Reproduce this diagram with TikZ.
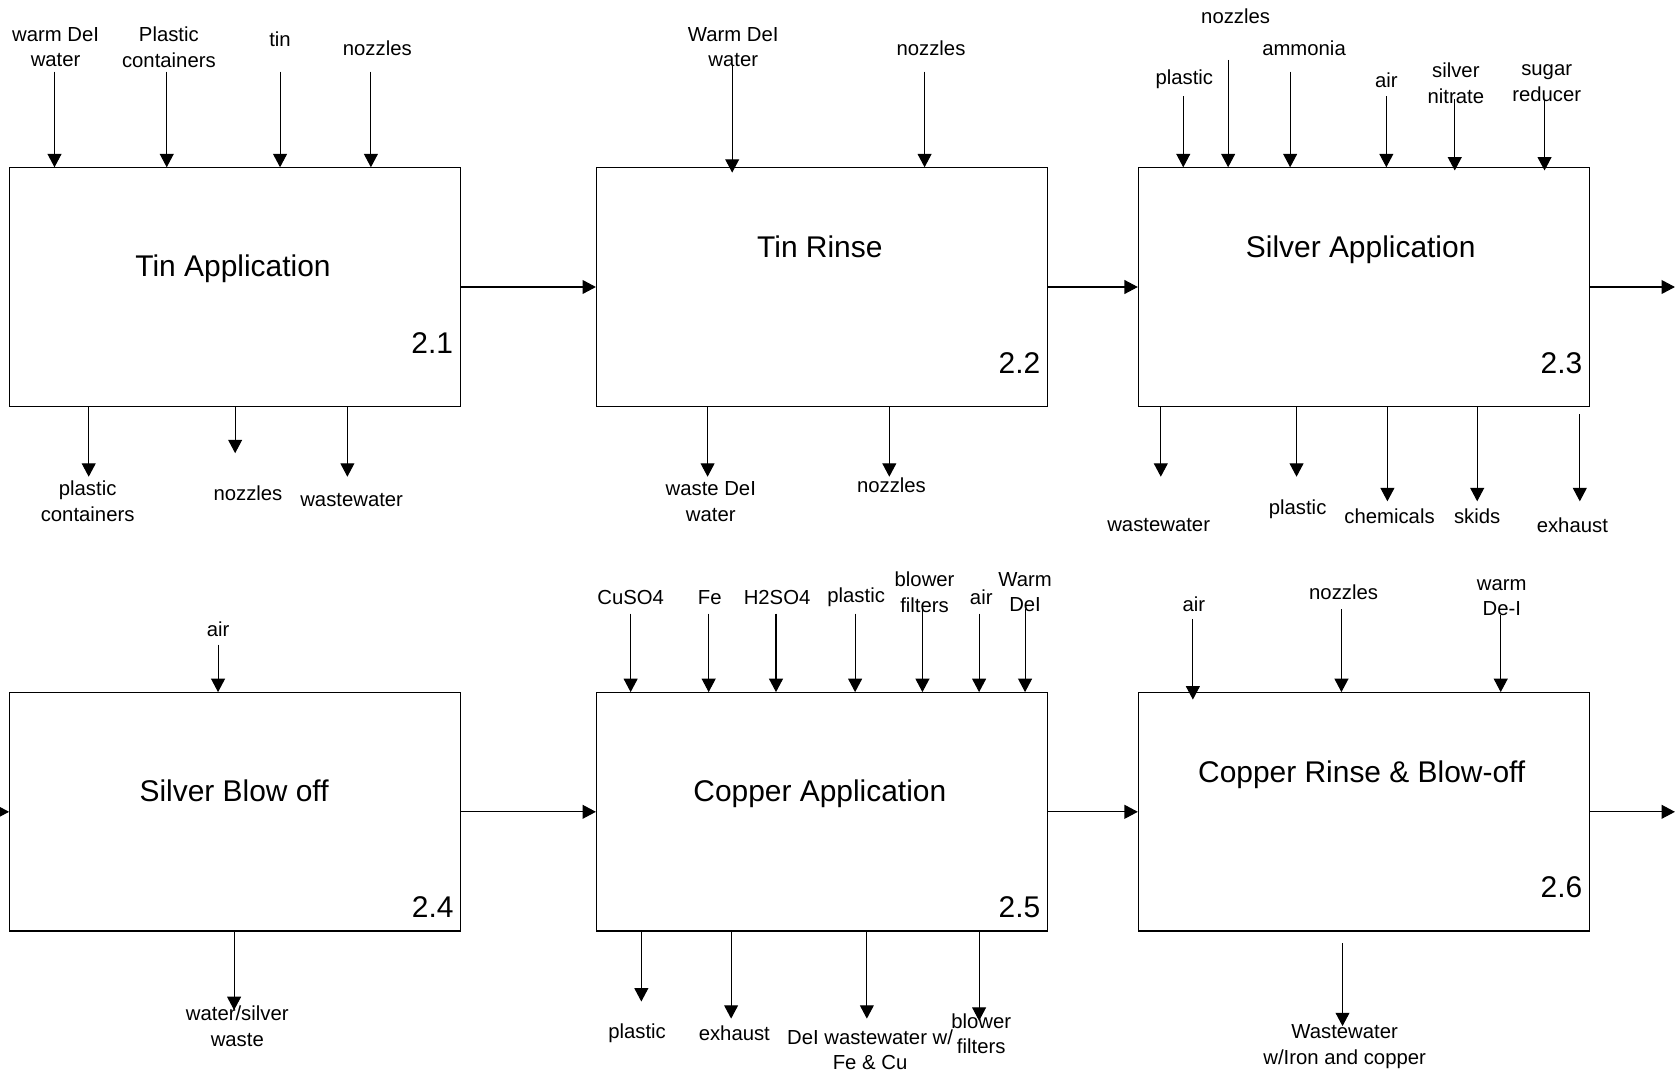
\documentclass[tikz,border=0pt]{standalone}
\usepackage{fontspec}
\setmainfont{Liberation Sans}
\usetikzlibrary{arrows.meta}

% an input stream: name, box, x, start y, overshoot, label x, label y, text
\newcommand\feedin[8]{%
  \node[lbl] (#1) at (#6,#7) {#8};
  \coordinate (#1-s) at (#3,#4);
  \draw[flow, shorten >=-#5pt] (#1-s) -- (#1-s |- #2.north);
}
% an output stream: name, box, x, gap below box, end y, label x, label y, text
\newcommand\feedout[8]{%
  \node[lbl] (#1) at (#6,#7) {#8};
  \coordinate (#1-e) at (#3,#5);
  \draw[flow, shorten <=#4pt] (#1-e |- #2.south) -- (#1-e);
}

\begin{document}
\begin{tikzpicture}[x=1pt,y=-1pt,
  proc/.style={draw=black, line width=1pt, minimum width=422pt,
               minimum height=223pt, inner sep=0pt},
  ttl/.style={font=\fontsize{28}{34}\selectfont, inner sep=0pt},
  lbl/.style={font=\fontsize{19}{24}\selectfont, align=center, inner sep=0pt},
  flow/.style={draw=black, line width=1pt,
               -{Triangle[length=12.5pt,width=13pt]}},
]
\useasboundingbox (0,0) rectangle (1568,1004);

% process boxes
\node[proc] (b1) at (220,268.5) {};
\node[proc] (b2) at (769,268.5) {};
\node[proc] (b3) at (1276,268.5) {};
\node[proc] (b4) at (220,759.5) {};
\node[proc] (b5) at (769,759.5) {};
\node[proc] (b6) at (1276,759.5) {};

% process names
\node[ttl, anchor=base] (t1) at (218,259) {Tin Application};
\node[ttl, anchor=base] (t2) at (767,241) {Tin Rinse};
\node[ttl, anchor=base] (t3) at (1273,241) {Silver Application};
\node[ttl, anchor=base] (t4) at (219,750) {Silver Blow off};
\node[ttl, anchor=base] (t5) at (767,750) {Copper Application};
\node[ttl, anchor=base] (t6) at (1274,732) {Copper Rinse \& Blow-off};

% process numbers
\node[ttl, anchor=base east] (n1) at (424,331) {2.1};
\node[ttl, anchor=base east] (n2) at (973.5,349) {2.2};
\node[ttl, anchor=base east] (n3) at (1480.5,349) {2.3};
\node[ttl, anchor=base east] (n4) at (424.5,858) {2.4};
\node[ttl, anchor=base east] (n5) at (973.5,858) {2.5};
\node[ttl, anchor=base east] (n6) at (1480.5,840) {2.6};

% main line
\coordinate (in4) at (-40,759.5);
\coordinate (out3) at (1567,268.5);
\coordinate (out6) at (1567,759.5);
\draw[flow] (b1.east) -- (b2.west);
\draw[flow] (b2.east) -- (b3.west);
\draw[flow] (b3.east) -- (out3);
\draw[flow] (in4) -- (b4.west);
\draw[flow] (b4.east) -- (b5.west);
\draw[flow] (b5.east) -- (b6.west);
\draw[flow] (b6.east) -- (out6);

% inputs
\feedin{a1}{b1}{51}{67}{0}{52}{44}{warm DeI\\water}
\feedin{a2}{b1}{156}{67}{0}{158}{44}{Plastic\\containers}
\feedin{a3}{b1}{262}{67}{0}{262}{37}{tin}
\feedin{a4}{b1}{347}{67}{0}{353}{45}{nozzles}
\feedin{c1}{b2}{685}{61}{5}{686}{44}{Warm DeI\\water}
\feedin{c2}{b2}{865}{67}{0}{871}{45}{nozzles}
\feedin{e1}{b3}{1107}{90}{0}{1108}{74}{plastic}
\feedin{e2}{b3}{1149}{56}{0}{1156}{15}{nozzles}
\feedin{e3}{b3}{1207}{67}{0}{1220}{45}{ammonia}
\feedin{e4}{b3}{1297}{90}{0}{1297}{75}{air}
\feedin{e5}{b3}{1361}{93}{3}{1362}{78}{silver\\nitrate}
\feedin{e6}{b3}{1445}{93}{3}{1447}{78}{sugar\\reducer}
\feedin{g1}{b4}{204}{603}{0}{204}{589}{air}
\feedin{h1}{b5}{590}{574}{0}{590}{559}{CuSO4}
\feedin{h2}{b5}{663}{574}{0}{664}{559}{Fe}
\feedin{h3}{b5}{726}{574}{0}{727}{559}{H2SO4}
\feedin{h4}{b5}{800}{574}{0}{801}{559}{plastic}
\feedin{h5}{b5}{863}{570}{0}{865}{554}{blower\\filters}
\feedin{h6}{b5}{916}{574}{0}{918}{559}{air}
\feedin{h7}{b5}{959}{570}{0}{959}{554}{Warm\\DeI}
\feedin{k1}{b6}{1116}{579}{7}{1117}{565}{air}
\feedin{k2}{b6}{1255}{570}{0}{1257}{554}{nozzles}
\feedin{k3}{b6}{1404}{575}{0}{1405}{559}{warm\\De-I}

% outputs
\feedout{d1}{b1}{83}{0}{446}{82}{469}{plastic\\containers}
\feedout{d2}{b1}{220}{0}{424}{232}{461}{nozzles}
\feedout{d3}{b1}{325}{0}{446}{329}{468}{wastewater}
\feedout{f1}{b2}{662}{0}{446}{665}{469}{waste DeI\\water}
\feedout{f2}{b2}{832}{0}{446}{834}{454}{nozzles}
\feedout{m1}{b3}{1086}{0}{446}{1084}{491}{wastewater}
\feedout{m2}{b3}{1213}{0}{446}{1214}{476}{plastic}
\feedout{m3}{b3}{1298}{0}{469}{1300}{483}{chemicals}
\feedout{m4}{b3}{1382}{0}{469}{1382}{483}{skids}
\feedout{m5}{b3}{1478}{7}{469}{1471}{491}{exhaust}
\feedout{q1}{b4}{219}{0}{945}{222}{960}{water/silver\\waste}
\feedout{r1}{b5}{600}{0}{937}{596}{967}{plastic}
\feedout{r2}{b5}{684}{0}{953}{687}{967}{exhaust}
\feedout{r3}{b5}{811}{0}{953}{814}{982}{DeI wastewater w/\\Fe \& Cu}
\feedout{r4}{b5}{916}{0}{955}{918}{967}{blower\\filters}
\feedout{s1}{b6}{1256}{11}{960}{1258}{979}{Wastewater\\w/Iron and copper}
\end{tikzpicture}
\end{document}
